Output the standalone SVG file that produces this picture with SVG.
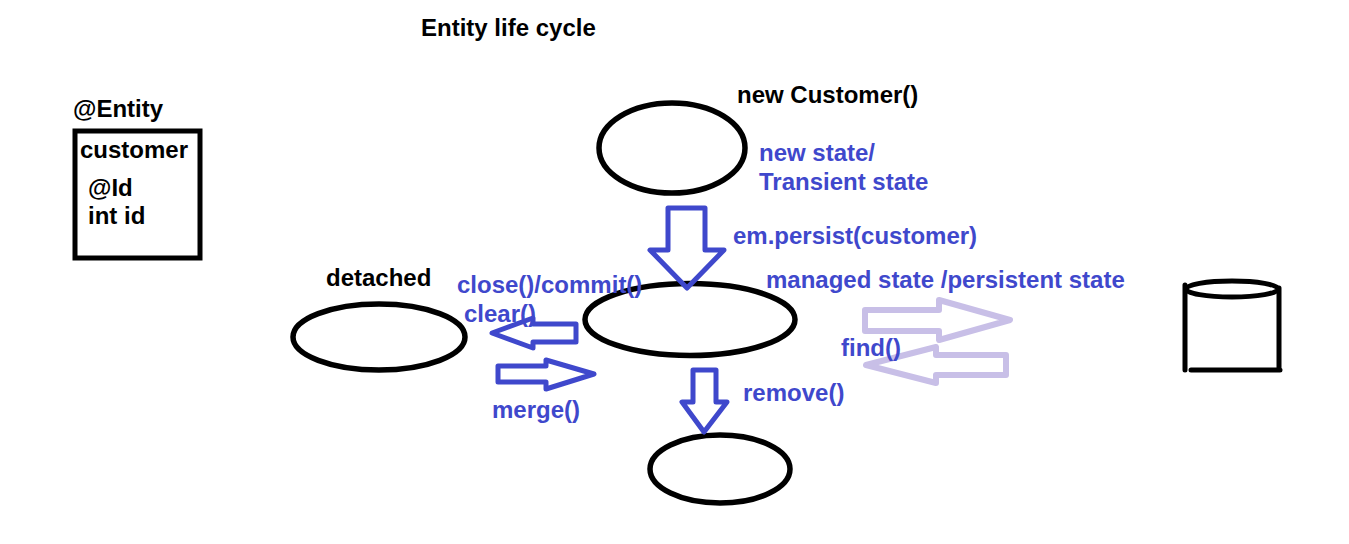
<svg xmlns="http://www.w3.org/2000/svg" width="1349" height="544" viewBox="0 0 1349 544">
<style>
text{font-family:"Liberation Sans",Arial,sans-serif;font-weight:700;font-size:24px;fill:#000}
.b{fill:#3f48cc}
.o{fill:#fff;stroke:#000;stroke-width:5.5}
.a{fill:none;stroke:#3f48cc;stroke-width:5;stroke-linejoin:round}
.l{fill:none;stroke:#c8bfe7;stroke-width:6;stroke-linejoin:round}
.k{fill:none;stroke:#000;stroke-width:5;stroke-linecap:round}
</style>
<rect width="1349" height="544" fill="#fff"/>
<text x="421" y="36">Entity life cycle</text>
<g id="entity-class">
<text x="73" y="117">@Entity</text>
<rect x="75" y="131" width="125" height="127" fill="#fff" stroke="#000" stroke-width="5"/>
<text x="80" y="158">customer</text>
<text x="88" y="196">@Id</text>
<text x="88" y="224">int id</text>
</g>
<g id="new-state">
<ellipse class="o" cx="672" cy="148" rx="73" ry="45"/>
<text x="737" y="103">new Customer()</text>
<text class="b" x="759" y="161">new state/</text>
<text class="b" x="759" y="190">Transient state</text>
</g>
<g id="managed-state">
<ellipse class="o" cx="690" cy="319.5" rx="105" ry="36"/>
<text class="b" x="766" y="288">managed state /persistent state</text>
</g>
<g id="detached-state">
<ellipse class="o" cx="379" cy="337" rx="86" ry="33"/>
<text x="326" y="286">detached</text>
</g>
<g id="removed-state">
<ellipse class="o" cx="720" cy="469" rx="70" ry="34"/>
</g>
<g id="database">
<ellipse cx="1232" cy="289" rx="46" ry="8" fill="#fff" stroke="#000" stroke-width="5"/>
<path class="k" d="M1185 285V370M1279 288V369M1191 370H1280"/>
</g>
<g id="connectors">
<path class="a" d="M668 208H705V250H724L687 288L650 250H668Z"/>
<path class="a" d="M576 324V342H533V348L492 333L533 318V324Z"/>
<path class="a" d="M498 366V382H546V389L594 374L546 360V366Z"/>
<path class="a" d="M693 370H716V402H727L704 432L682 402H693Z"/>
<path class="l" d="M865 310H939V300L1010 320L939 340V331H865Z"/>
<path class="l" d="M1006 355V375H936V383L866 365L936 347V355Z"/>
<text class="b" x="733" y="244">em.persist(customer)</text>
<text class="b" x="457" y="293">close()/commit()</text>
<text class="b" x="464" y="322">clear()</text>
<text class="b" x="492" y="418">merge()</text>
<text class="b" x="743" y="401">remove()</text>
<text class="b" x="841" y="356">find()</text>
</g>
</svg>
